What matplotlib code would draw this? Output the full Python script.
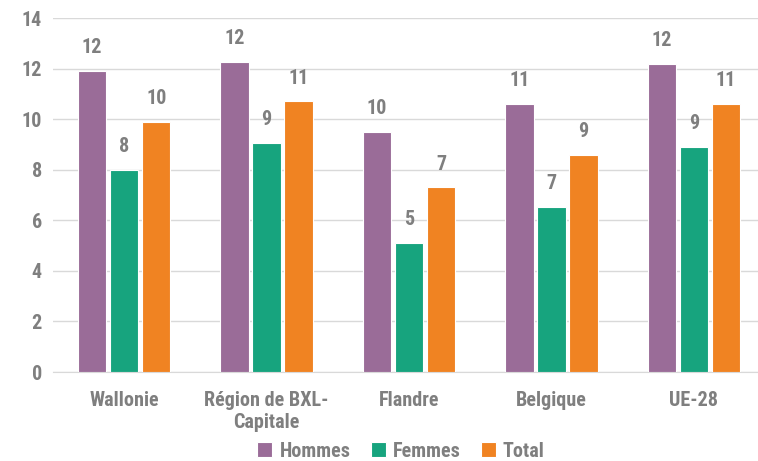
import matplotlib

matplotlib.use("Agg")
import matplotlib.pyplot as plt
import numpy as np
from matplotlib import font_manager

REGIONS = ["Wallonie", "Région de BXL-\nCapitale", "Flandre", "Belgique", "UE-28"]
HOMMES = [11.9, 12.25, 9.5, 10.6, 12.2]
FEMMES = [8.0, 9.05, 5.1, 6.52, 8.9]
TOTAL = [9.9, 10.7, 7.3, 8.6, 10.6]

SERIES = ["Hommes", "Femmes", "Total"]
COLORS = ["#9A6C98", "#17A47E", "#F08322"]
TEXT = "#7F7F7F"
FS = 14.5

# pick a narrow face if one is around
names = {f.name for f in font_manager.fontManager.ttflist}
narrow = [f for f in ["Liberation Sans Narrow", "Roboto Condensed", "Open Sans Condensed"] if f in names]
plt.rcParams["font.family"] = narrow + ["DejaVu Sans"]
plt.rcParams["font.stretch"] = "condensed"
plt.rcParams["font.weight"] = "bold"

fig = plt.figure(figsize=(7.58, 4.61), dpi=100)
ax = fig.add_axes([53 / 758, 89 / 461, 712 / 758, 354 / 461])

x = np.arange(len(REGIONS))
pitch = 0.225
width = 0.2
for i, (name, vals, color) in enumerate(zip(SERIES, [HOMMES, FEMMES, TOTAL], COLORS)):
    bars = ax.bar(x + (i - 1) * pitch, vals, width, color=color, label=name,
                  edgecolor="white", linewidth=0.8, zorder=3)
    for bar, v in zip(bars, vals):
        ax.annotate(f"{round(v)}", (bar.get_x() + bar.get_width() / 2, v),
                    xytext=(0, 10), textcoords="offset points", ha="center", va="bottom",
                    fontsize=FS, color=TEXT, fontweight="bold")

ax.set_ylim(0, 14)
ax.set_xlim(-0.5, 4.5)
ax.set_yticks(range(0, 15, 2))
ax.set_xticks(x, REGIONS)
ax.grid(axis="y", color="#D9D9D9", linewidth=1, zorder=0)
for s in ["top", "right", "left"]:
    ax.spines[s].set_visible(False)
ax.spines["bottom"].set_color("#D9D9D9")
ax.tick_params(axis="both", length=0, labelsize=FS, labelcolor=TEXT, pad=8)
ax.tick_params(axis="x", pad=14)
for t in ax.get_xticklabels() + ax.get_yticklabels():
    t.set_fontweight("bold")

leg = fig.legend(loc="center", bbox_to_anchor=(401 / 758, 1 - 451 / 461), ncol=3, frameon=False,
                 prop={"size": FS, "weight": "bold", "stretch": "condensed"},
                 handlelength=0.75, handleheight=0.75, handletextpad=0.35,
                 columnspacing=1.0, borderaxespad=0)
for t in leg.get_texts():
    t.set_color(TEXT)

fig.savefig("out.png", dpi=100)
